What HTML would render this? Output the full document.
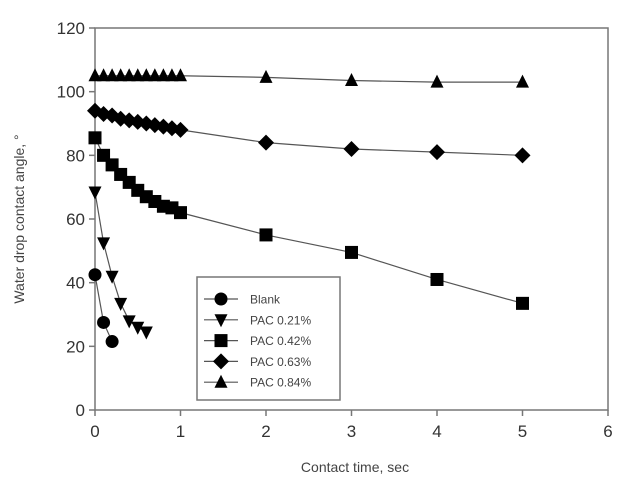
<!DOCTYPE html>
<html><head><meta charset="utf-8"><style>
body{margin:0;background:#fff;}
svg{display:block;font-family:"Liberation Sans",Arial,sans-serif;}
</style></head><body>
<svg width="634" height="495" viewBox="0 0 634 495">
<g id="axes"></g><g id="series"></g><g id="legend"></g>
</svg>
<script>
const xTicks=[0,1,2,3,4,5,6];
const yTicks=[0,20,40,60,80,100,120];
const seriesNames=["Blank","PAC 0.21%","PAC 0.42%","PAC 0.63%","PAC 0.84%"];
const seriesMarkers=["circle","tridown","square","diamond","triup"];
const blankX=[0,0.1,0.2];
const blankY=[42.5,27.5,21.5];
const pac21X=[0,0.1,0.2,0.3,0.4,0.5,0.6];
const pac21Y=[68.5,52.5,42,33.5,28,26,24.5];
const pac42X=[0,0.1,0.2,0.3,0.4,0.5,0.6,0.7,0.8,0.9,1,2,3,4,5];
const pac42Y=[85.5,80,77,74,71.5,69,67,65.5,64,63.5,62,55,49.5,41,33.5];
const pac63X=[0,0.1,0.2,0.3,0.4,0.5,0.6,0.7,0.8,0.9,1,2,3,4,5];
const pac63Y=[94,93,92.5,91.5,91,90.5,90,89.5,89,88.5,88,84,82,81,80];
const pac84X=[0,0.1,0.2,0.3,0.4,0.5,0.6,0.7,0.8,0.9,1,2,3,4,5];
const pac84Y=[105,105,105,105,105,105,105,105,105,105,105,104.5,103.5,103,103];
const NS="http://www.w3.org/2000/svg";
const X0=95,X1=608,Y0=410,Y1=28;
const sx=v=>X0+(v-0)/(6-0)*(X1-X0);
const sy=v=>Y0-(v-0)/(120-0)*(Y0-Y1);
function mk(tag,attrs,parent){const e=document.createElementNS(NS,tag);for(const k in attrs)e.setAttribute(k,attrs[k]);parent.appendChild(e);return e;}
const axes=document.getElementById('axes');
const frame=mk('rect',{x:X0,y:Y1,width:X1-X0,height:Y0-Y1,fill:'none',stroke:'#777','stroke-width':1.5},axes);


xTicks.forEach(t=>{
 const l=mk('line',{x1:sx(t),x2:sx(t),y1:Y0,y2:Y0+6,stroke:'#777','stroke-width':1.5},axes);
 
 
 const tx=mk('text',{x:sx(t),y:Y0+27,'text-anchor':'middle','font-size':17,fill:'#333'},axes);
 tx.textContent=t;
 
 
});
yTicks.forEach(t=>{
 const l=mk('line',{x1:X0-6,x2:X0,y1:sy(t),y2:sy(t),stroke:'#777','stroke-width':1.5},axes);
 
 
 const tx=mk('text',{x:X0-10,y:sy(t)+6,'text-anchor':'end','font-size':17,fill:'#333'},axes);
 tx.textContent=t;
 
 
});
const xt=mk('text',{x:355,y:472,'text-anchor':'middle','font-size':14,fill:'#444'},axes);
xt.textContent='Contact time, sec';


const yt=mk('text',{x:0,y:0,'text-anchor':'middle','font-size':14,fill:'#444',transform:'translate(24,'+((Y0+Y1)/2)+') rotate(-90)'},axes);
yt.textContent='Water drop contact angle, °';


function marker(type,x,y,p){
 const s=6.5;let e;
 if(type==='circle')e=mk('circle',{cx:x,cy:y,r:s},p);
 else if(type==='square')e=mk('rect',{x:x-s,y:y-s,width:2*s,height:2*s},p);
 else if(type==='diamond')e=mk('polygon',{points:`${x},${y-s-1.5} ${x+s+1.5},${y} ${x},${y+s+1.5} ${x-s-1.5},${y}`},p);
 else if(type==='tridown')e=mk('polygon',{points:`${x-s},${y-s+1} ${x+s},${y-s+1} ${x},${y+s+1}`},p);
 else e=mk('polygon',{points:`${x-s},${y+s-1} ${x+s},${y+s-1} ${x},${y-s-1}`},p);
 e.setAttribute('fill','#000');
 return e;
}
const xs=[blankX,pac21X,pac42X,pac63X,pac84X];
const ys=[blankY,pac21Y,pac42Y,pac63Y,pac84Y];
const sg=document.getElementById('series');
xs.forEach((X,i)=>{
 const g=mk('g',{},sg);
 
 
 const pl=mk('polyline',{points:X.map((v,j)=>sx(v)+','+sy(ys[i][j])).join(' '),fill:'none',stroke:'#555','stroke-width':1.2},g);
 
 
 X.forEach((v,j)=>{
  const m=marker(seriesMarkers[i],sx(v),sy(ys[i][j]),g);
  
  
 });
});
const lg=document.getElementById('legend');


const lb=mk('rect',{x:197,y:277,width:143,height:123,fill:'#fff',stroke:'#777','stroke-width':1.5},lg);


seriesNames.forEach((n,i)=>{
 const y=299+i*20.8;
 const g=mk('g',{},lg);
 
 
 mk('line',{x1:204,x2:238,y1:y,y2:y,stroke:'#555','stroke-width':1.2},g);
 marker(seriesMarkers[i],221,y,g);
 const t=mk('text',{x:250,y:y+4.5,'font-size':12,fill:'#444'},g);
 t.textContent=n;
});
</script>
</body></html>
